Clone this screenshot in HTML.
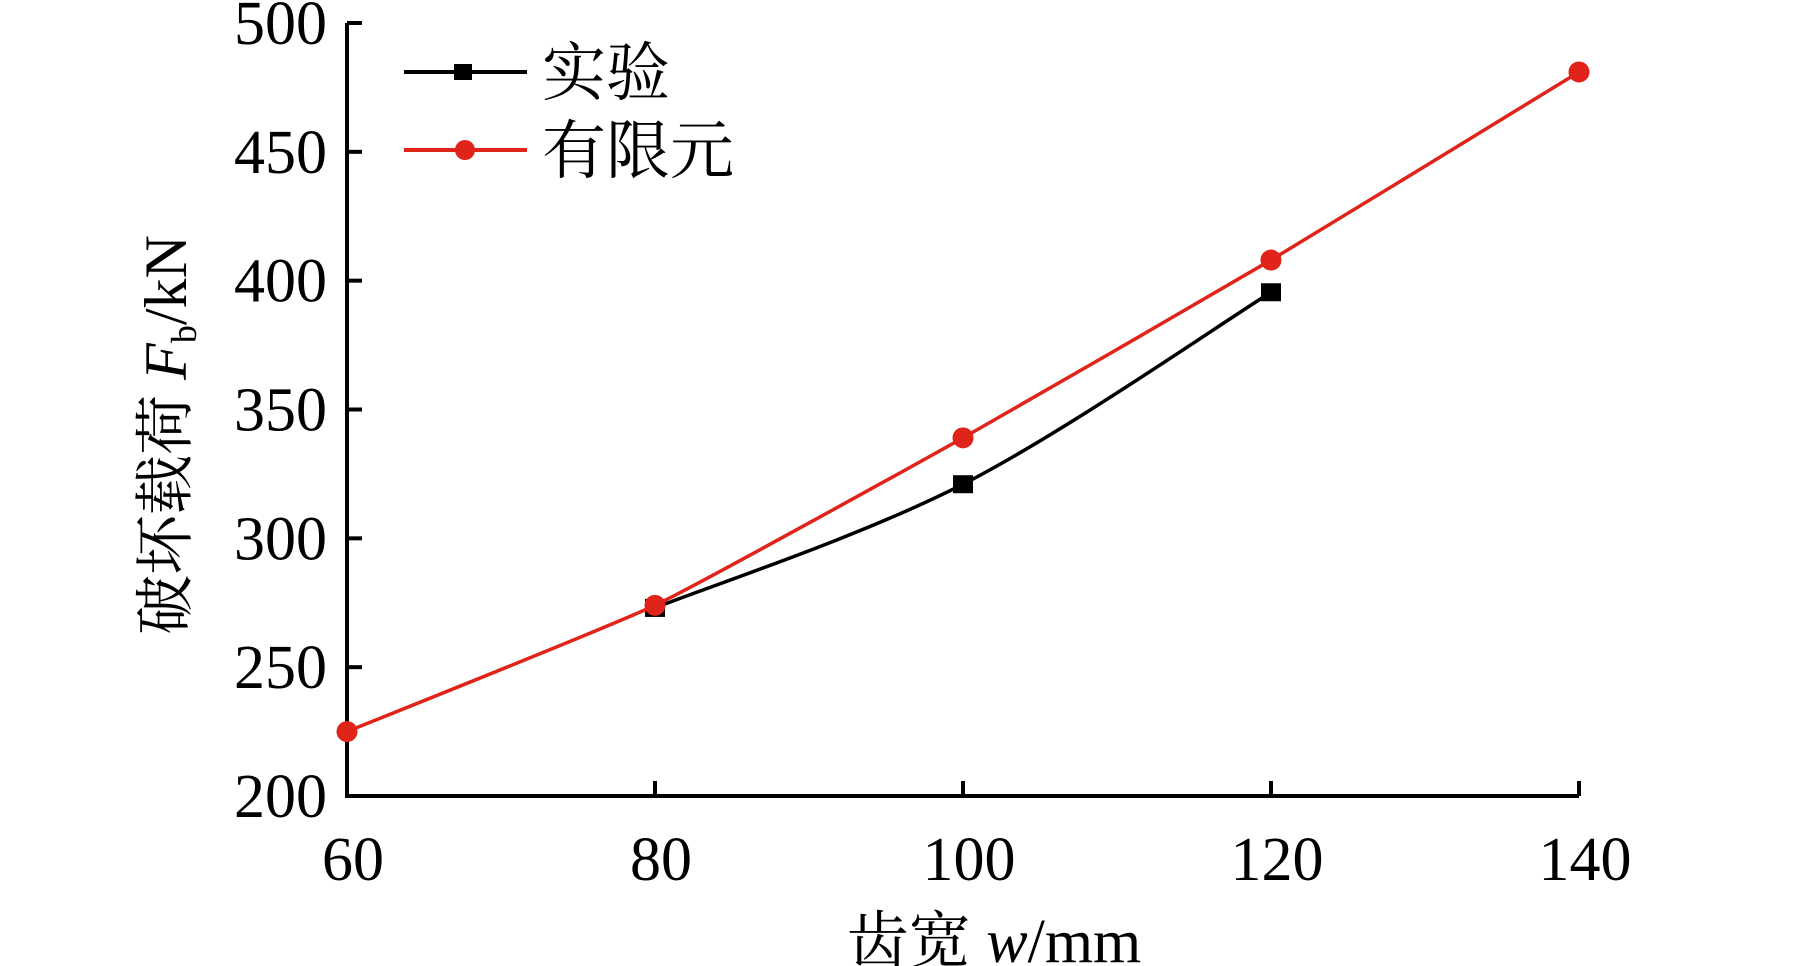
<!DOCTYPE html>
<html><head><meta charset="utf-8"><style>
html,body{margin:0;padding:0;background:#fff;}
svg{display:block;}
text{font-family:"Liberation Serif","Noto Serif CJK SC","Noto Sans CJK SC",serif;fill:#000;}
</style></head><body>
<svg id="chart" width="1819" height="966" viewBox="0 0 1819 966">
<g id="axes"></g>
<g id="series"></g>
<g>
  <line x1="404" y1="72" x2="527" y2="72" stroke="#000" stroke-width="4"/>
  <rect x="454" y="64" width="18" height="16" fill="#000"/>
  <text x="542" y="95" font-size="64">实验</text>
  <line x1="404" y1="150" x2="527" y2="150" stroke="#e0241a" stroke-width="4"/>
  <circle cx="465" cy="150" r="10" fill="#e0241a"/>
  <text x="542" y="173" font-size="64">有限元</text>
</g>
<text transform="translate(186,435) rotate(-90)" text-anchor="middle" font-size="60">破坏载荷 <tspan font-style="italic">F</tspan><tspan font-size="36" dy="10">b</tspan><tspan dy="-10">/kN</tspan></text>
<text x="994" y="962" text-anchor="middle" font-size="62">齿宽 <tspan font-style="italic">w</tspan>/mm</text>
</svg>
<script>
const xTicks = [60, 80, 100, 120, 140];
const yTicks = [200, 250, 300, 350, 400, 450, 500];
const femX = [60, 80, 100, 120, 140];
const femY = [225, 274, 339, 408, 481];
const expX = [80, 100, 120];
const expY = [273, 321, 395.5];

const X0 = 347, X1 = 1579, Y0 = 796, Y1 = 23;
function sx(v){ return X0 + (v - 60) / (140 - 60) * (X1 - X0); }
function sy(v){ return Y0 - (v - 200) / (500 - 200) * (Y0 - Y1); }
const NS = 'http://www.w3.org/2000/svg';
function mk(tag, attrs, parent){
  const e = document.createElementNS(NS, tag);
  for (const k in attrs) e.setAttribute(k, attrs[k]);
  parent.appendChild(e); return e;
}
const axes = document.getElementById('axes');
const series = document.getElementById('series');

let a = mk('path', {d:`M${X0},${Y1} V${Y0} H${X1}`, fill:'none', stroke:'#000', 'stroke-width':4}, axes);



yTicks.forEach(v => {
  const t = mk('line', {x1:X0, x2:X0+15, y1:sy(v), y2:sy(v), stroke:'#000', 'stroke-width':4}, axes);
  
  
  const l = mk('text', {x:327, y:sy(v)+21, 'text-anchor':'end', 'font-size':62}, axes);
  l.textContent = v;
  
  
});
xTicks.forEach(v => {
  const t = mk('line', {x1:sx(v), x2:sx(v), y1:Y0, y2:Y0-15, stroke:'#000', 'stroke-width':4}, axes);
  
  
  const l = mk('text', {x:sx(v)+6, y:880, 'text-anchor':'middle', 'font-size':62}, axes);
  l.textContent = v;
  
  
});

function smoothPath(xs, ys, k){
  const p = xs.map((x,i)=>[sx(x), sy(ys[i])]);
  let d = `M${p[0][0]},${p[0][1]}`;
  for (let i=0;i<p.length-1;i++){
    const p0 = p[Math.max(i-1,0)], p1 = p[i], p2 = p[i+1], p3 = p[Math.min(i+2,p.length-1)];
    const c1 = [p1[0]+(p2[0]-p0[0])*k, p1[1]+(p2[1]-p0[1])*k];
    const c2 = [p2[0]-(p3[0]-p1[0])*k, p2[1]-(p3[1]-p1[1])*k];
    d += ` C${c1[0]},${c1[1]} ${c2[0]},${c2[1]} ${p2[0]},${p2[1]}`;
  }
  return d;
}

const el = mk('path', {d:smoothPath(expX, expY, 1/6), fill:'none', stroke:'#000', 'stroke-width':3.5}, series);


expX.forEach((x,i) => {
  const r = mk('rect', {x:sx(x)-10, y:sy(expY[i])-9, width:20, height:18, fill:'#000'}, series);
  
  
});

const fl = mk('path', {d:smoothPath(femX, femY, 1/14), fill:'none', stroke:'#e0241a', 'stroke-width':3.5}, series);


femX.forEach((x,i) => {
  const c = mk('circle', {cx:sx(x), cy:sy(femY[i]), r:10.5, fill:'#e0241a'}, series);
  
  
});
</script>
</body></html>
